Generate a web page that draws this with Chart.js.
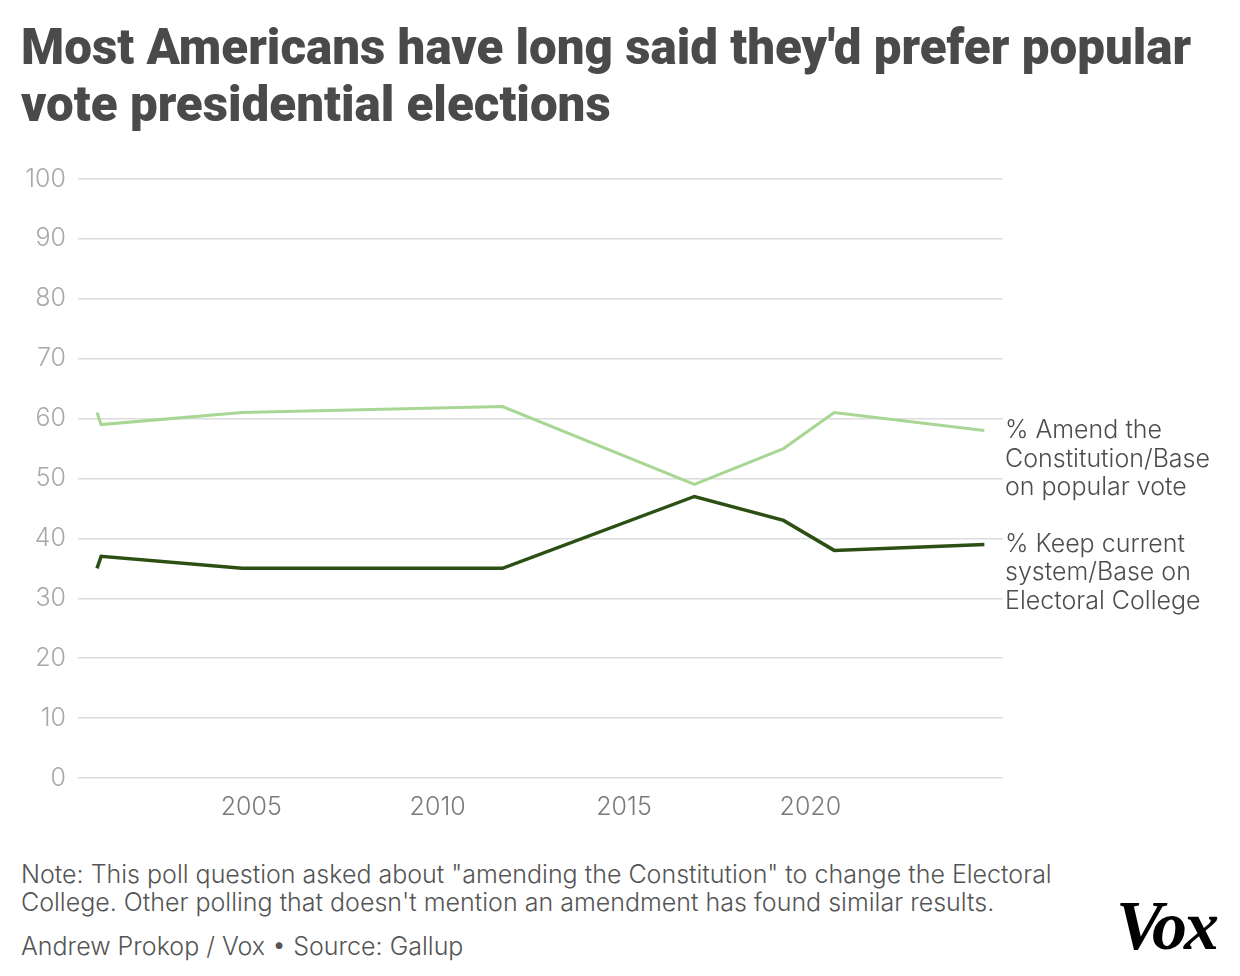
<!DOCTYPE html>
<html>
<head>
<meta charset="utf-8">
<script src="https://cdn.jsdelivr.net/npm/chart.js@4"></script>
<style>
  body { margin: 0; background: #fff; width: 1240px; height: 976px; position: relative; overflow: hidden; }
  #title { position: absolute; left: 21px; top: 19px; font-family: Roboto, sans-serif; font-weight: 900; font-size: 49.3px; line-height: 57px; color: #4a4a4a; }
  #wrap { position: absolute; left: 0; top: 152px; width: 1240px; height: 688px; }
  .foot { position: absolute; left: 21px; font-family: Inter, sans-serif; font-weight: 300; font-size: 25px; color: #555; }
  #note { top: 860px; line-height: 28px; }
  #credit { top: 932px; line-height: 28px; }
  #logo { position: absolute; left: 1116px; top: 886px; font-family: "Liberation Serif", serif; font-weight: 700; font-style: italic; font-size: 70px; color: #000; letter-spacing: -3px; }
</style>
</head>
<body>
<div id="title">Most Americans have long said they'd prefer popular<br>vote presidential elections</div>
<div id="wrap"><canvas id="myChart" width="1240" height="688"></canvas></div>
<div class="foot" id="note">Note: This poll question asked about "amending the Constitution" to change the Electoral<br>College. Other polling that doesn't mention an amendment has found similar results.</div>
<div class="foot" id="credit">Andrew Prokop / Vox • Source: Gallup</div>
<div id="logo">Vox</div>
<script>
// poll dates as decimal years
let years = [2000.86, 2000.97, 2004.75, 2011.74, 2016.89, 2019.28, 2020.64, 2024.67];
let amend = [61, 59, 61, 62, 49, 55, 61, 58];
let keep = [35, 37, 35, 35, 47, 43, 38, 39];
let yTicks = [0, 10, 20, 30, 40, 50, 60, 70, 80, 90, 100];
let xTicks = [2005, 2010, 2015, 2020];

let amendLabel = ['% Amend the', 'Constitution/Base', 'on popular vote'];
let keepLabel = ['% Keep current', 'system/Base on', 'Electoral College'];

const toPoints = (vals) => vals.map((v, i) => ({ x: years[i], y: v }));

// draws the series names to the right of the last point
const endLabels = {
    id: 'endLabels',
    afterDatasetsDraw(chart) {
        const ctx = chart.ctx;
        const y = chart.scales.y;
        const left = chart.chartArea.right + 2;
        ctx.save();
        ctx.font = '300 25px Inter';
        ctx.fillStyle = '#4d4d4d';
        ctx.textBaseline = 'middle';
        chart.data.datasets.forEach(ds => {
            const last = ds.data[ds.data.length - 1].y;
            let top = y.getPixelForValue(last);
            ds.endLabel.forEach((line, i) => {
                ctx.fillText(line, left, top + i * 28.5);
            });
        });
        ctx.restore();
    }
};

new Chart(document.getElementById('myChart'), {
    type: 'line',
    data: {
        datasets: [{
            label: amendLabel.join(' '),
            endLabel: amendLabel,
            data: toPoints(amend),
            borderColor: 'rgb(168, 214, 148)',
            borderWidth: 3,
            pointRadius: 0,
            tension: 0
        }, {
            label: keepLabel.join(' '),
            endLabel: keepLabel,
            data: toPoints(keep),
            borderColor: 'rgb(44, 80, 20)',
            borderWidth: 3.5,
            pointRadius: 0,
            tension: 0
        }]
    },
    options: {
        responsive: false,
        animation: false,
        layout: { padding: { top: 10, right: 237, left: 0, bottom: 0 } },
        plugins: { legend: { display: false }, tooltip: { enabled: false } },
        scales: {
            x: {
                type: 'linear',
                min: 2000.35,
                max: 2025.17,
                border: { display: false },
                grid: { display: false },
                afterBuildTicks: (scale) => {
                    scale.ticks = xTicks.map(v => ({ value: v }));
                },
                afterFit: (scale) => { scale.height = 62; },
                ticks: {
                    padding: 6,
                    maxRotation: 0,
                    color: '#7a7a7a',
                    font: { family: 'Inter', weight: '300', size: 25 },
                    callback: (v) => String(v)
                }
            },
            y: {
                min: 0,
                max: 100,
                border: { display: false },
                grid: { color: '#dcdcdc', lineWidth: 1.5, drawTicks: false },
                afterBuildTicks: (scale) => {
                    scale.ticks = yTicks.map(v => ({ value: v }));
                },
                afterFit: (scale) => { scale.width = 78; },
                ticks: {
                    padding: 12,
                    color: '#a9a9a9',
                    font: { family: 'Inter', weight: '300', size: 25 },
                    callback: (v) => String(v)
                }
            }
        }
    },
    plugins: [endLabels]
});
</script>
</body>
</html>
